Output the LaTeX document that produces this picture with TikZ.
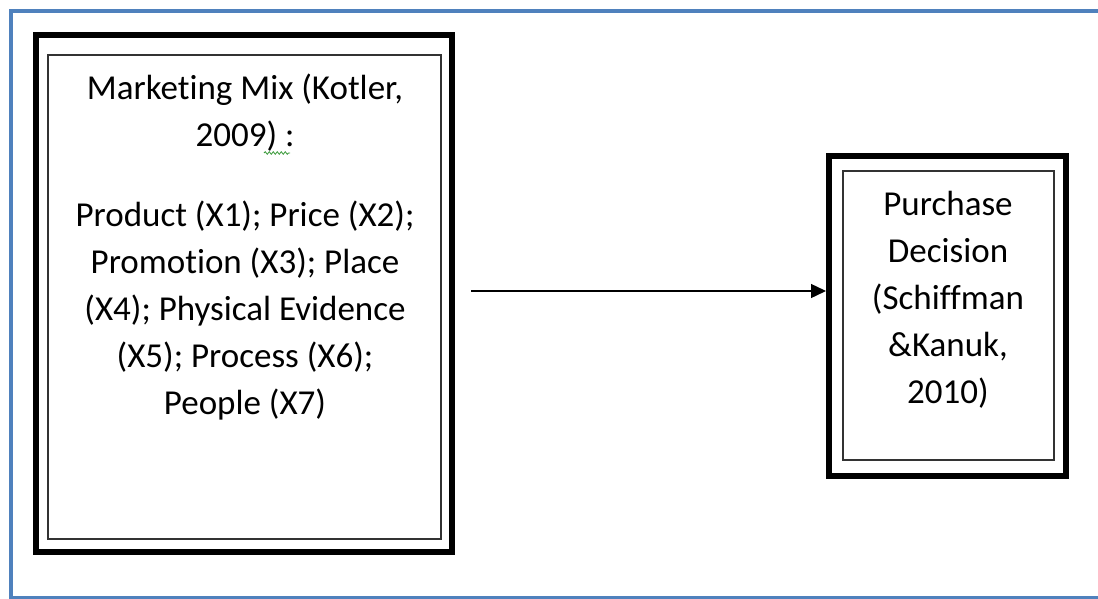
\documentclass[tikz,border=0pt]{standalone}
\usepackage{fontspec}
\setmainfont{Carlito}[Ligatures=CommonOff]
\usetikzlibrary{arrows.meta,decorations.pathmorphing}
\definecolor{frameblue}{HTML}{4F81BD}
\definecolor{squig}{HTML}{3A9A3A}
\begin{document}
\begin{tikzpicture}[x=1pt,y=-1pt,
  outerbox/.style={draw=black,line width=6pt,minimum width=#1},
  innerbox/.style={draw=black!80,line width=1.4pt},
  boxtext/.style={align=center,font=\fontsize{35}{47}\selectfont,inner sep=0pt},
  conn/.style={line width=1.4pt,-{Triangle[length=15pt,width=14pt]}}]
\useasboundingbox (0,0) rectangle (1098,599);
\clip (0,0) rectangle (1098,599);
% blue page frame
\coordinate (fa) at (1110,11.5);
\coordinate (fb) at (10.5,11.5);
\coordinate (fc) at (10.5,597.5);
\coordinate (fd) at (1110,597.5);
\draw[frameblue,line width=4pt] (fa) -- (fb) -- (fc) -- (fd);
% left box
\node[outerbox=416pt,minimum height=517pt,inner sep=0pt] (mmout) at (244,293.5) {};
\node[innerbox,minimum width=393pt,minimum height=484pt,inner sep=0pt] (mmin) at (244.5,297) {};
\node[boxtext] (mmtext) at (245,247) {Marketing Mix (Kotler,\\ 2009) :\\[33pt] Product (X1); Price (X2);\\ Promotion (X3); Place\\ (X4); Physical Evidence\\ (X5); Process (X6);\\ People (X7)};
\coordinate (sqa) at (264,153);
\coordinate (sqb) at (290,153);
\draw[squig,line width=0.8pt,decorate,decoration={snake,amplitude=1.3pt,segment length=4pt}] (sqa) -- (sqb);
% right box
\node[outerbox=237pt,minimum height=319pt,inner sep=0pt] (pdout) at (947.5,316) {};
\node[innerbox,minimum width=211pt,minimum height=289pt,inner sep=0pt] (pdin) at (948.5,315.5) {};
\node[boxtext] (pdtext) at (948,300) {Purchase\\ Decision\\ (Schiffman\\ \&Kanuk,\\ 2010)};
% connector
\coordinate (arst) at (471,291);
\draw[conn] (arst) -- (pdout.west |- arst);
\end{tikzpicture}
\end{document}
